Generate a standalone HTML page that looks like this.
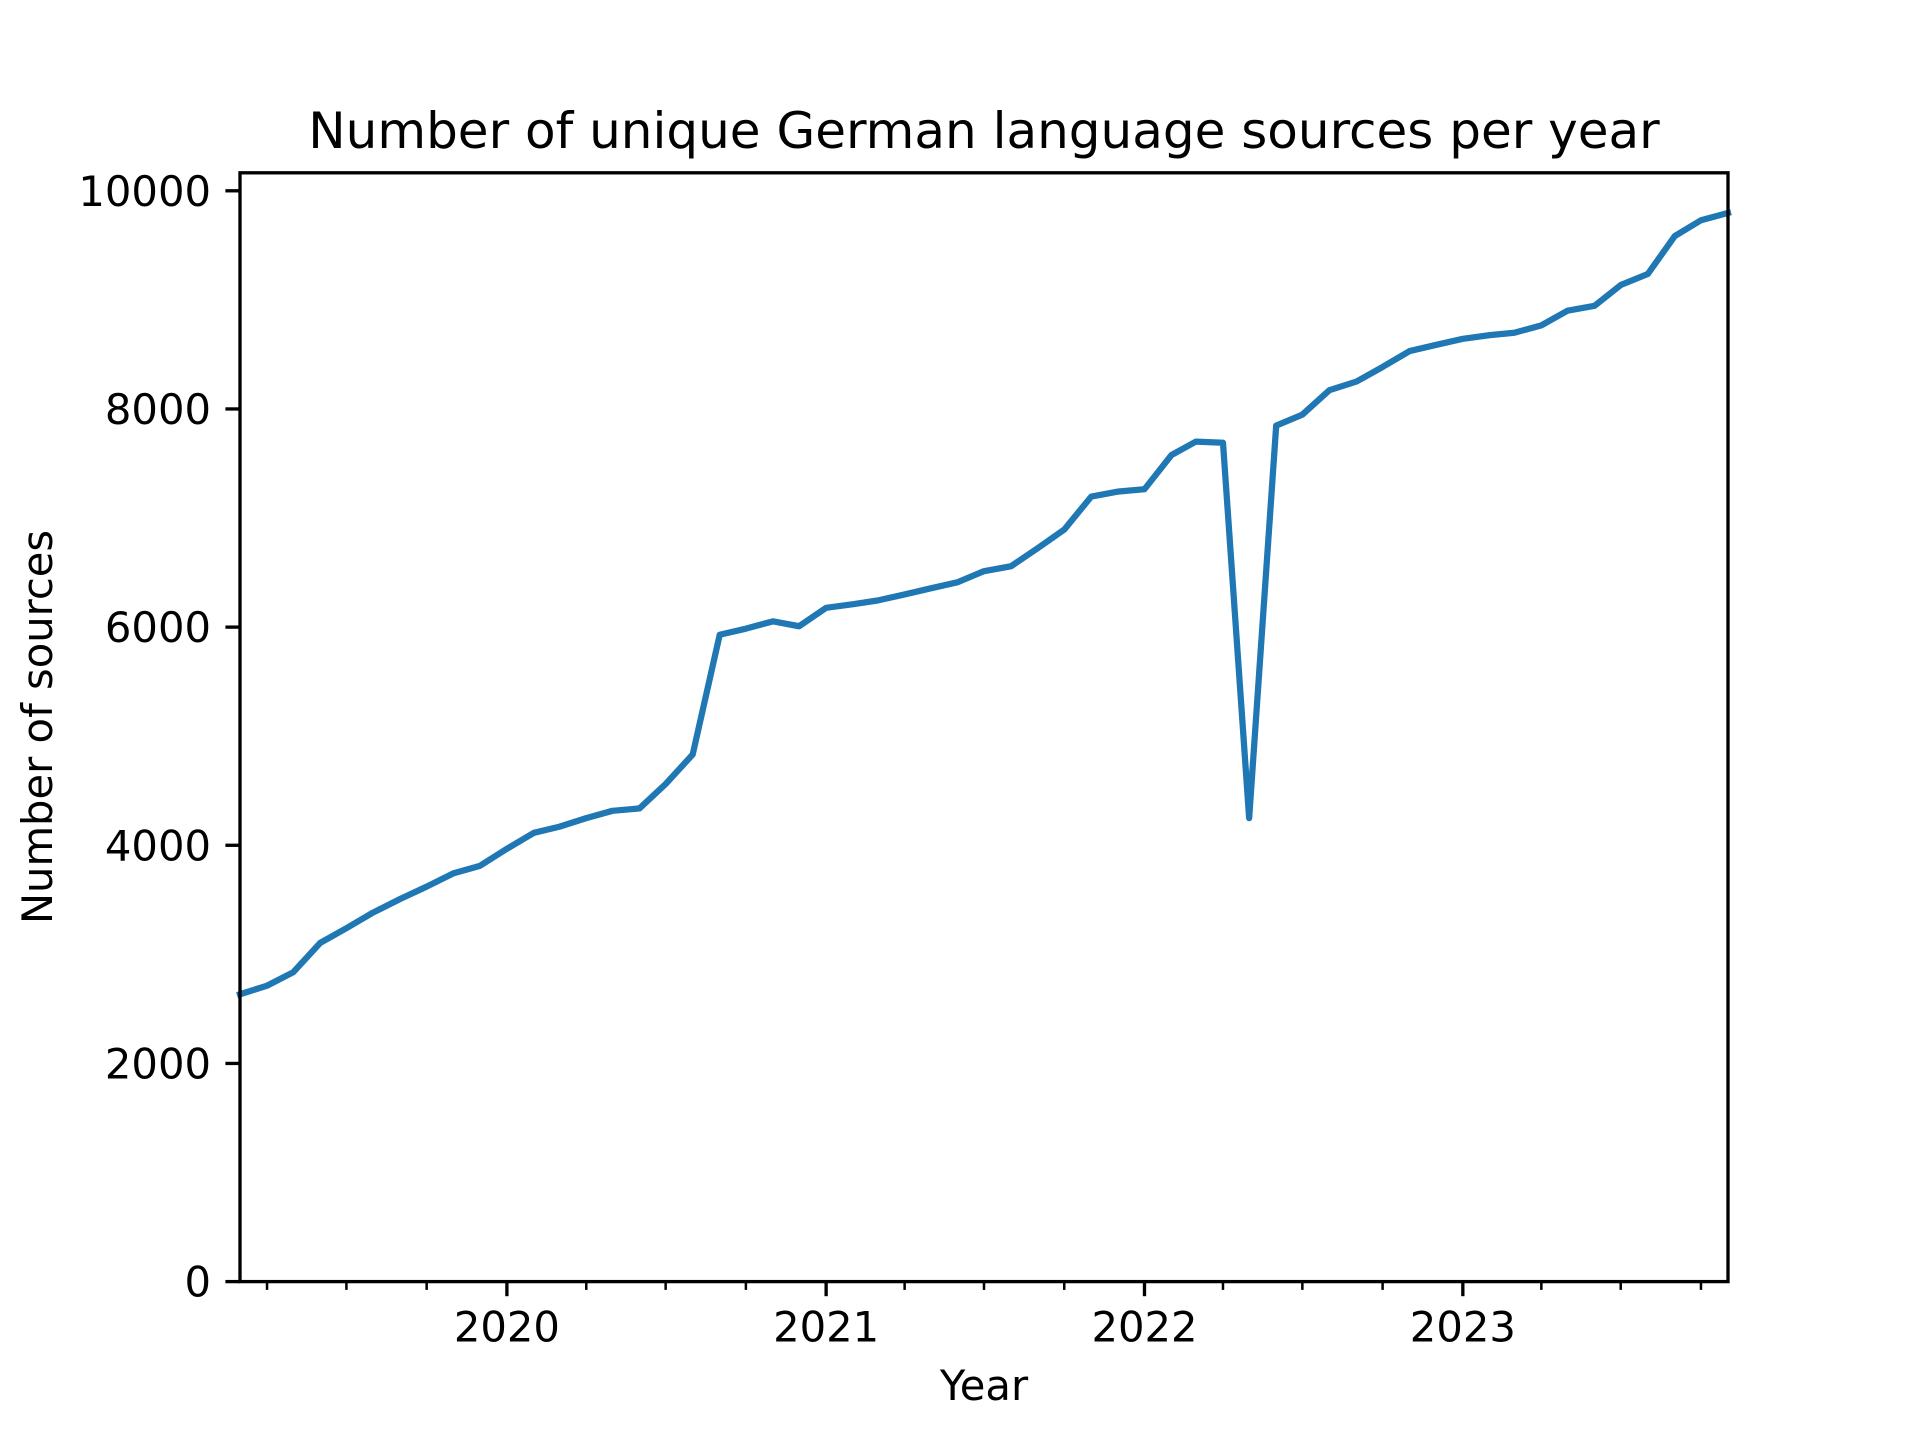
<!DOCTYPE html>
<html><head><meta charset="utf-8"><style>
html,body{margin:0;padding:0;background:#fff;}
svg{display:block;font-family:"DejaVu Sans","Liberation Sans",sans-serif;}
</style></head><body>
<svg id="chart" width="1920" height="1440" viewBox="0 0 1920 1440" xmlns="http://www.w3.org/2000/svg">
<rect width="1920" height="1440" fill="#fff"/>
<text x="984" y="148" font-size="50" text-anchor="middle">Number of unique German language sources per year</text>
<text x="984" y="1400" font-size="41.7" text-anchor="middle">Year</text>
<text transform="translate(52,727) rotate(-90)" font-size="41.7" text-anchor="middle">Number of sources</text>
<g id="ticks"></g>
<g id="series"></g>
<rect x="240" y="172.8" width="1488" height="1108.8" fill="none" stroke="#000" stroke-width="3.33"/>
</svg>
<script>
const startYear = 2019, startMonth = 3; // first data point: March 2019
const values = [2634,2713,2836,3105,3240,3385,3509,3621,3744,3811,
3968,4114,4170,4249,4316,4338,4562,4832,5930,5986,6053,6008,
6177,6210,6244,6300,6356,6412,6513,6558,6726,6894,7197,7242,
7264,7578,7701,7690,4249,7847,7948,8172,8251,8385,8531,8587,
8643,8677,8699,8766,8901,8946,9136,9237,9585,9730,9797];
const yTicks = [0,2000,4000,6000,8000,10000];
const xTickYears = [2020,2021,2022,2023];
const minorMonths = [4,7,10];

const L=240,R=1728,T=172.8,B=1281.6, yMax=10165;
const NS="http://www.w3.org/2000/svg";
function dayOf(y,m){return Date.UTC(y,m-1,1)/864e5;}
const dates = values.map((v,i)=>{const t=startMonth-1+i;return dayOf(startYear+Math.floor(t/12),t%12+1);});
const x0=dates[0], x1=dates[dates.length-1];
const xs=d=>L+(d-x0)/(x1-x0)*(R-L);
const ys=v=>B-v/yMax*(B-T);
function el(tag,attrs,parent){const e=document.createElementNS(NS,tag);for(const k in attrs)e.setAttribute(k,attrs[k]);parent.appendChild(e);return e;}
const tg=document.getElementById('ticks');
yTicks.forEach(v=>{
  const y=ys(v);
  const l=el('line',{x1:L-14.6,x2:L,y1:y,y2:y,stroke:'#000','stroke-width':3.33},tg);
  
  
  const t=el('text',{x:L-29,y:y+15,'font-size':41.7,'text-anchor':'end'},tg);
  t.textContent=v;
  
  
});
xTickYears.forEach(yr=>{
  const x=xs(dayOf(yr,1));
  const l=el('line',{x1:x,x2:x,y1:B,y2:B+14.6,stroke:'#000','stroke-width':3.33},tg);
  
  
  const t=el('text',{x:x,y:B+60,'font-size':41.7,'text-anchor':'middle'},tg);
  t.textContent=yr;
  
  
});
for(let yr=startYear;yr<=2023;yr++){minorMonths.forEach(m=>{
  const d=dayOf(yr,m); if(d<x0||d>x1)return;
  const x=xs(d);
  const l=el('line',{x1:x,x2:x,y1:B,y2:B+8.3,stroke:'#000','stroke-width':2.5},tg);
  
  
});}
const pts=values.map((v,i)=>xs(dates[i]).toFixed(2)+','+ys(v).toFixed(2)).join(' ');
const pl=el('polyline',{points:pts,fill:'none',stroke:'#1f77b4','stroke-width':6.25,'stroke-linejoin':'round','stroke-linecap':'square'},document.getElementById('series'));


</script>
</body></html>
